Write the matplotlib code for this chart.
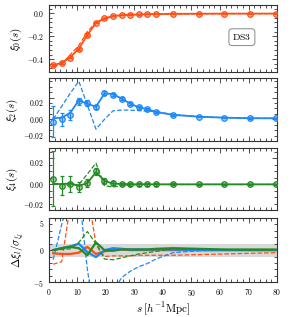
import matplotlib
matplotlib.use("Agg")
import matplotlib.pyplot as plt
from matplotlib.ticker import MultipleLocator, FuncFormatter

# separation bins
s = [1.5, 4.5, 7.5, 10.5, 13.5, 16.5, 19.5, 22.5, 25.5, 28.5, 31.5, 34.5, 37.5,
     43.5, 52.5, 61.5, 70.5, 79.5]

# monopole
xi0 = [-0.453, -0.43, -0.385, -0.31, -0.187, -0.083, -0.045, -0.024, -0.017,
       -0.013, -0.011, -0.009, -0.008, -0.006, -0.005, -0.004, -0.004, -0.004]
xi0_err = [0.008, 0.007, 0.007, 0.007, 0.007, 0.005, 0.004, 0.003, 0.002, 0.002,
           0.002, 0.0015, 0.0015, 0.001, 0.001, 0.001, 0.001, 0.001]
xi0_fit = [-0.45, -0.432, -0.383, -0.308, -0.19, -0.085, -0.045, -0.025, -0.017,
           -0.013, -0.011, -0.009, -0.008, -0.006, -0.005, -0.004, -0.004, -0.004]
xi0_alt = [-0.462, -0.44, -0.36, -0.28, -0.16, -0.082, -0.05, -0.028, -0.02,
           -0.016, -0.013, -0.011, -0.01, -0.008, -0.006, -0.005, -0.004, -0.004]

# quadrupole
xi2 = [-0.0023, 0.0, 0.004, 0.0165, 0.015, 0.0113, 0.0244, 0.0228, 0.0188, 0.0144,
       0.0109, 0.0094, 0.0066, 0.004, 0.0024, 0.0015, 0.0009, 0.0009]
xi2_err = [0.0143, 0.006, 0.0045, 0.003, 0.003, 0.002, 0.002, 0.0015, 0.0015, 0.0012,
           0.001, 0.001, 0.001, 0.0008, 0.0006, 0.0005, 0.0005, 0.0005]
xi2_fit = [0.001, 0.0015, 0.006, 0.0175, 0.0143, 0.0115, 0.0238, 0.0232, 0.019, 0.0145,
           0.011, 0.0093, 0.0068, 0.0041, 0.0024, 0.0015, 0.001, 0.0009]
xi2_alt = [0.0, 0.012, 0.024, 0.035, 0.013, -0.009, 0.0, 0.0078, 0.0085, 0.0085,
           0.008, 0.0075, 0.007, 0.0045, 0.0025, 0.0015, 0.001, 0.001]

# hexadecapole
xi4 = [0.0045, -0.0008, 0.0005, -0.0018, 0.0013, 0.010, 0.0026, 0.0008, 0.0005,
       0.0002, 0.0001, 0.0002, 0.0001, 0.0001, 0.0001, 0.0001, 0.0001, 0.0001]
xi4_err = [0.021, 0.007, 0.006, 0.004, 0.003, 0.003, 0.002, 0.0015, 0.001, 0.001,
           0.001, 0.001, 0.001, 0.0008, 0.0006, 0.0005, 0.0005, 0.0005]
xi4_fit = [0.0005, 0.0003, 0.0008, -0.001, 0.001, 0.0095, 0.0028, 0.0006, 0.0004,
           0.0002, 0.0001, 0.0001, 0.0001, 0.0001, 0.0001, 0.0001, 0.0001, 0.0001]
xi4_alt = [0.0, 0.0, -0.0005, 0.0, 0.008, 0.0164, -0.001, -0.002, -0.001, -0.0005,
           0.0, 0.0, 0.0, 0.0, 0.0, 0.0, 0.0, 0.0]

# residuals (model - data) / sigma
res0_fit = [-0.5, -0.6, -0.6, -0.4, 0.5, -0.6, -0.2, 0.0, 0.1, 0.0, 0.0, 0.0, 0.0,
            0.0, 0.0, 0.0, 0.0, 0.0]
res2_fit = [0.0, 0.3, 0.6, 1.0, -0.3, -1.1, 0.0, 0.3, 0.2, 0.1, 0.1, 0.1, 0.1, 0.1,
            0.0, 0.0, 0.0, 0.0]
res4_fit = [0.0, 0.3, 0.5, 0.3, -0.8, 1.2, 0.0, -0.1, 0.1, 0.1, 0.1, 0.1, 0.2, 0.3,
            0.2, 0.1, 0.1, 0.1]
res0_alt = [-2.2, -1.8, 7.0, 10.0, 9.0, 1.0, -1.0, -0.9, -0.9, -0.9, -0.8, -0.8,
            -0.8, -0.8, -0.7, -0.6, -0.5, -0.4]
res2_alt = [-1.5, 4.0, 9.0, 9.0, -3.0, -12.0, -10.0, -6.5, -4.3, -3.3, -2.6, -2.1,
            -1.4, -0.4, -0.1, 0.0, 0.0, 0.0]
res4_alt = [0.0, 0.1, 0.2, 1.2, 2.9, 1.0, -1.4, -1.5, -1.2, -0.9, -0.6, -0.4, -0.2,
            0.2, 0.1, 0.1, 0.0, 0.0]

c0 = "#ff4f14"
c2 = "#1e88f5"
c4 = "#238b23"

plt.rcParams["mathtext.fontset"] = "cm"
plt.rcParams["font.family"] = "serif"
plt.rcParams["font.serif"] = ["DejaVu Serif"]

fig = plt.figure(figsize=(2.91, 3.17), dpi=100)
left, width = 0.168, 0.784
boxes = [(0.773, 0.211), (0.555, 0.199), (0.336, 0.197), (0.110, 0.202)]
axes = [fig.add_axes([left, b, width, h]) for b, h in boxes]


def tickfmt(dec):
    def f(v, p):
        v = round(v, dec)
        if v == 0:
            v = 0.0
        return r"$%.*f$" % (dec, v)
    return FuncFormatter(f)


for ax in axes:
    ax.set_xlim(0, 80)
    ax.xaxis.set_major_locator(MultipleLocator(10))
    ax.xaxis.set_minor_locator(MultipleLocator(2))
    ax.tick_params(which="both", direction="in", top=True, right=True,
                   labelsize=5.5, color="#333333", width=0.6)
    ax.tick_params(which="major", length=3.5)
    ax.tick_params(which="minor", length=2)
    for sp in ax.spines.values():
        sp.set_color("#333333")
        sp.set_linewidth(0.8)

data = [(xi0, xi0_err, xi0_fit, xi0_alt, c0),
        (xi2, xi2_err, xi2_fit, xi2_alt, c2),
        (xi4, xi4_err, xi4_fit, xi4_alt, c4)]
for ax, (y, e, fit, alt, c) in zip(axes[:3], data):
    ax.errorbar(s, y, yerr=e, fmt="o", color=c, ms=4, mfc=c + "66", mec=c,
                mew=0.9, elinewidth=0.9, capsize=1.5, zorder=3)
    ax.plot(s, fit, "-", color=c, lw=1.3, zorder=2)
    ax.plot(s, alt, "--", color=c, lw=0.9, zorder=2)
    ax.tick_params(labelbottom=False)

axes[0].set_ylim(-0.51, 0.07)
axes[0].yaxis.set_major_locator(MultipleLocator(0.2))
axes[0].yaxis.set_minor_locator(MultipleLocator(0.04))
axes[0].yaxis.set_major_formatter(tickfmt(1))
axes[0].set_ylabel(r"$\xi_0(s)$", fontsize=8, labelpad=2)
axes[0].text(0.846, 0.52, r"$\mathrm{DS3}$", transform=axes[0].transAxes,
             fontsize=7, ha="center", va="center",
             bbox=dict(boxstyle="round,pad=0.35", fc="white", ec="#888888", lw=0.7))

axes[1].set_ylim(-0.02, 0.038)
axes[1].yaxis.set_major_locator(MultipleLocator(0.02))
axes[1].yaxis.set_minor_locator(MultipleLocator(0.005))
axes[1].yaxis.set_major_formatter(tickfmt(2))
axes[1].set_ylabel(r"$\xi_2(s)$", fontsize=8, labelpad=2)

axes[2].set_ylim(-0.02, 0.028)
axes[2].yaxis.set_major_locator(MultipleLocator(0.02))
axes[2].yaxis.set_minor_locator(MultipleLocator(0.005))
axes[2].yaxis.set_major_formatter(tickfmt(2))
axes[2].set_ylabel(r"$\xi_4(s)$", fontsize=8, labelpad=2)

ax = axes[3]
ax.axhspan(-1, 1, color="#d9d9d9", lw=0, zorder=0)
for fit, alt, c in [(res0_fit, res0_alt, c0), (res2_fit, res2_alt, c2),
                    (res4_fit, res4_alt, c4)]:
    ax.plot(s, fit, "-", color=c, lw=1.6)
    ax.plot(s, alt, "--", color=c, lw=0.9)
ax.set_ylim(-5, 5)
ax.yaxis.set_major_locator(MultipleLocator(5))
ax.yaxis.set_minor_locator(MultipleLocator(1))
ax.yaxis.set_major_formatter(tickfmt(0))
ax.xaxis.set_major_formatter(tickfmt(0))
ax.set_ylabel(r"$\Delta\xi_l/\sigma_{\xi_l}$", fontsize=8, labelpad=4)
ax.set_xlabel(r"$s\;[h^{-1}\mathrm{Mpc}]$", fontsize=8, labelpad=2)

fig.align_ylabels(axes)

# keep the edge labels of neighbouring panels apart
fig.canvas.draw()
for a in axes[1:3]:
    a.get_yticklabels()[1].set_va("bottom")
for a in axes[1:]:
    labs = [t for t in a.get_yticklabels() if t.get_position()[1] <= a.get_ylim()[1] + 1e-9]
    labs[-1].set_va("top")

fig.savefig("out.png", dpi=100)
